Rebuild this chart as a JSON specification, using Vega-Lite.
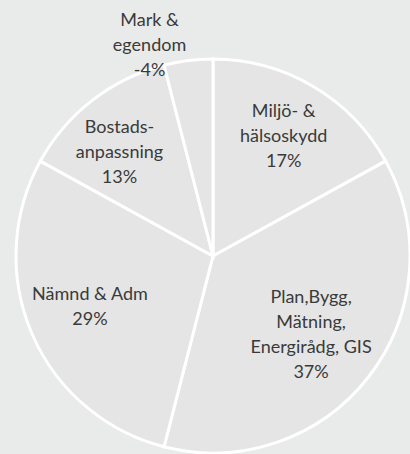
{
  "$schema": "https://vega.github.io/schema/vega-lite/v6.json",
  "autosize": "none",
  "width": 394,
  "height": 396,
  "padding": {"left": 16, "top": 58, "right": 0, "bottom": 0},
  "background": "#e9eaea",
  "config": {
    "view": {"stroke": null},
    "text": {"align": "center", "baseline": "middle", "font": "Lato", "fontSize": 18, "lineHeight": 25, "lineBreak": "\n", "color": "#3a3a3a"}
  },
  "data": {
    "values": [
      {"order": 1, "category": "Miljö- & hälsoskydd", "value": 17, "label": "Miljö- &\nhälsoskydd\n17%"},
      {"order": 2, "category": "Plan,Bygg, Mätning, Energirådg, GIS", "value": 37, "label": "Plan,Bygg,\nMätning,\nEnergirådg, GIS\n37%"},
      {"order": 3, "category": "Nämnd & Adm", "value": 29, "label": "Nämnd & Adm\n29%"},
      {"order": 4, "category": "Bostadsanpassning", "value": 13, "label": "Bostads-\nanpassning\n13%"},
      {"order": 5, "category": "Mark & egendom", "value": 4, "label": "Mark &\negendom\n-4%"}
    ]
  },
  "encoding": {
    "theta": {"field": "value", "type": "quantitative", "stack": true},
    "order": {"field": "order", "type": "quantitative"}
  },
  "layer": [
    {
      "mark": {"type": "arc", "fill": "#e5e5e5", "stroke": "#ffffff", "strokeWidth": 3}
    },
    {
      "mark": {"type": "text", "radius": 133, "dx": 3, "dy": -30},
      "encoding": {"text": {"condition": {"test": "datum.category === 'Miljö- & hälsoskydd'", "field": "label"}, "value": ""}}
    },
    {
      "mark": {"type": "text", "radius": 133, "dx": -7, "dy": -40},
      "encoding": {"text": {"condition": {"test": "datum.category === 'Plan,Bygg, Mätning, Energirådg, GIS'", "field": "label"}, "value": ""}}
    },
    {
      "mark": {"type": "text", "radius": 133, "dx": -1, "dy": -14},
      "encoding": {"text": {"condition": {"test": "datum.category === 'Nämnd & Adm'", "field": "label"}, "value": ""}}
    },
    {
      "mark": {"type": "text", "radius": 133, "dx": -12, "dy": -23},
      "encoding": {"text": {"condition": {"test": "datum.category === 'Bostadsanpassning'", "field": "label"}, "value": ""}}
    },
    {
      "mark": {"type": "text", "radius": 219, "dx": -36, "dy": -18},
      "encoding": {"text": {"condition": {"test": "datum.category === 'Mark & egendom'", "field": "label"}, "value": ""}}
    }
  ]
}
